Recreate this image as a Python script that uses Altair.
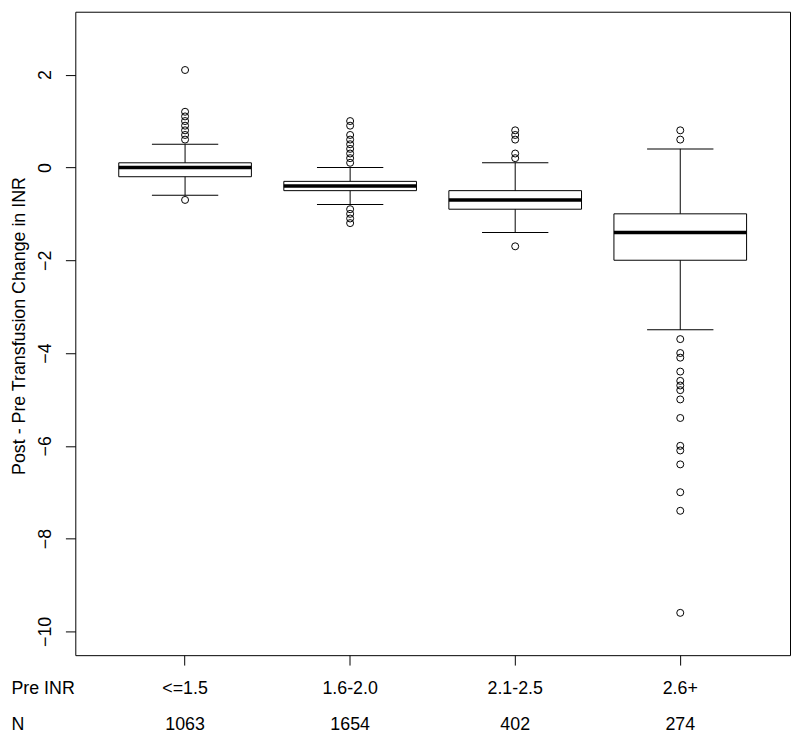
import altair as alt
import pandas as pd

# ---- data ----
categories = ["<=1.5", "1.6-2.0", "2.1-2.5", "2.6+"]
counts = [1063, 1654, 402, 274]
whisker_low = [-0.6, -0.8, -1.4, -3.5]
q1 = [-0.2, -0.5, -0.9, -2.0]
medians = [0.0, -0.4, -0.7, -1.4]
q3 = [0.1, -0.3, -0.5, -1.0]
whisker_high = [0.5, 0.0, 0.1, 0.4]
outliers_1 = [2.1, 1.2, 1.1, 1.0, 0.9, 0.8, 0.7, 0.6, -0.7]
outliers_2 = [1.0, 0.9, 0.7, 0.6, 0.5, 0.4, 0.3, 0.2, 0.1, -0.9, -1.0, -1.1, -1.2]
outliers_3 = [0.8, 0.7, 0.6, 0.3, 0.2, -1.7]
outliers_4 = [0.8, 0.6, -3.7, -4.0, -4.1, -4.4, -4.6, -4.7, -4.8, -5.0, -5.4,
              -6.0, -6.1, -6.4, -7.0, -7.4, -9.6]
row_labels = ["Pre INR", "N"]
y_ticks = [-10, -8, -6, -4, -2, 0, 2]
y_title = "Post - Pre Transfusion Change in INR"

FONT = "Liberation Sans"
FS = 18

stats = pd.DataFrame({
    "cat": categories, "n": [str(c) for c in counts],
    "lo": whisker_low, "q1": q1, "med": medians, "q3": q3, "hi": whisker_high,
})
out_rows = []
for cat, vals in zip(categories, [outliers_1, outliers_2, outliers_3, outliers_4]):
    for v in vals:
        out_rows.append({"cat": cat, "val": v})
outs = pd.DataFrame(out_rows)

xscale = alt.Scale(type="band", paddingInner=0, paddingOuter=0.165)
xaxis = alt.Axis(title=None, labelAngle=0, labelBaseline="alphabetic",
                 labelPadding=29, tickSize=10, domain=False, grid=False,
                 labelFontSize=FS, labelFont=FONT, labelColor="black",
                 tickColor="black")
X = alt.X("cat:N", sort=categories, scale=xscale, axis=xaxis)

yscale = alt.Scale(domain=[-10.512, 3.356], nice=False, zero=False)
yaxis = alt.Axis(title=y_title, values=y_ticks, labelAngle=270,
                 labelAlign="center", labelBaseline="alphabetic",
                 labelPadding=15, tickSize=10, domain=False, grid=False,
                 labelFontSize=FS, labelFont=FONT, labelColor="black",
                 tickColor="black", titleFont=FONT, titleFontSize=FS,
                 titleFontWeight="normal", titleColor="black", titleAngle=270,
                 titleBaseline="alphabetic", titleAlign="center",
                 titleX=-51, titleY=317)


def Y(field):
    return alt.Y(f"{field}:Q", scale=yscale, axis=yaxis)


base = alt.Chart(stats)

whisk = base.mark_rule(color="black", strokeWidth=1).encode(x=X, y=Y("lo"), y2="hi")
box = base.mark_bar(fill="white", stroke="black", strokeWidth=1, size=134).encode(
    x=X, y=Y("q1"), y2="q3")
med = base.mark_tick(color="black", thickness=3.5, size=134, opacity=1).encode(x=X, y=Y("med"))
cap_lo = base.mark_tick(color="black", thickness=1, size=67, opacity=1).encode(x=X, y=Y("lo"))
cap_hi = base.mark_tick(color="black", thickness=1, size=67, opacity=1).encode(x=X, y=Y("hi"))
pts = alt.Chart(outs).mark_point(shape="circle", filled=False, color="black",
                                 size=50, strokeWidth=1, opacity=1).encode(x=X, y=Y("val"))

n_text = base.mark_text(font=FONT, fontSize=FS, color="black", baseline="alphabetic",
                        align="center").encode(x=X, y=alt.value(725.5), text="n:N")

hdr1 = alt.Chart(pd.DataFrame({"label": [row_labels[0]]})).mark_text(
    font=FONT, fontSize=FS, color="black", baseline="alphabetic", align="left"
).encode(x=alt.value(-64.5), y=alt.value(689), text="label:N")
hdr2 = alt.Chart(pd.DataFrame({"label": [row_labels[1]]})).mark_text(
    font=FONT, fontSize=FS, color="black", baseline="alphabetic", align="left"
).encode(x=alt.value(-64.5), y=alt.value(725.5), text="label:N")

chart = alt.layer(whisk, box, med, cap_lo, cap_hi, pts, n_text, hdr1, hdr2).properties(
    width=722, height=650,
    autosize=alt.AutoSizeParams(type="none"),
    padding={"left": 68, "top": 0, "right": 2, "bottom": 90},
    background="white",
).configure_view(stroke="black", strokeWidth=1)

chart.save("out.html", embed_options={"renderer": "svg", "actions": False})
